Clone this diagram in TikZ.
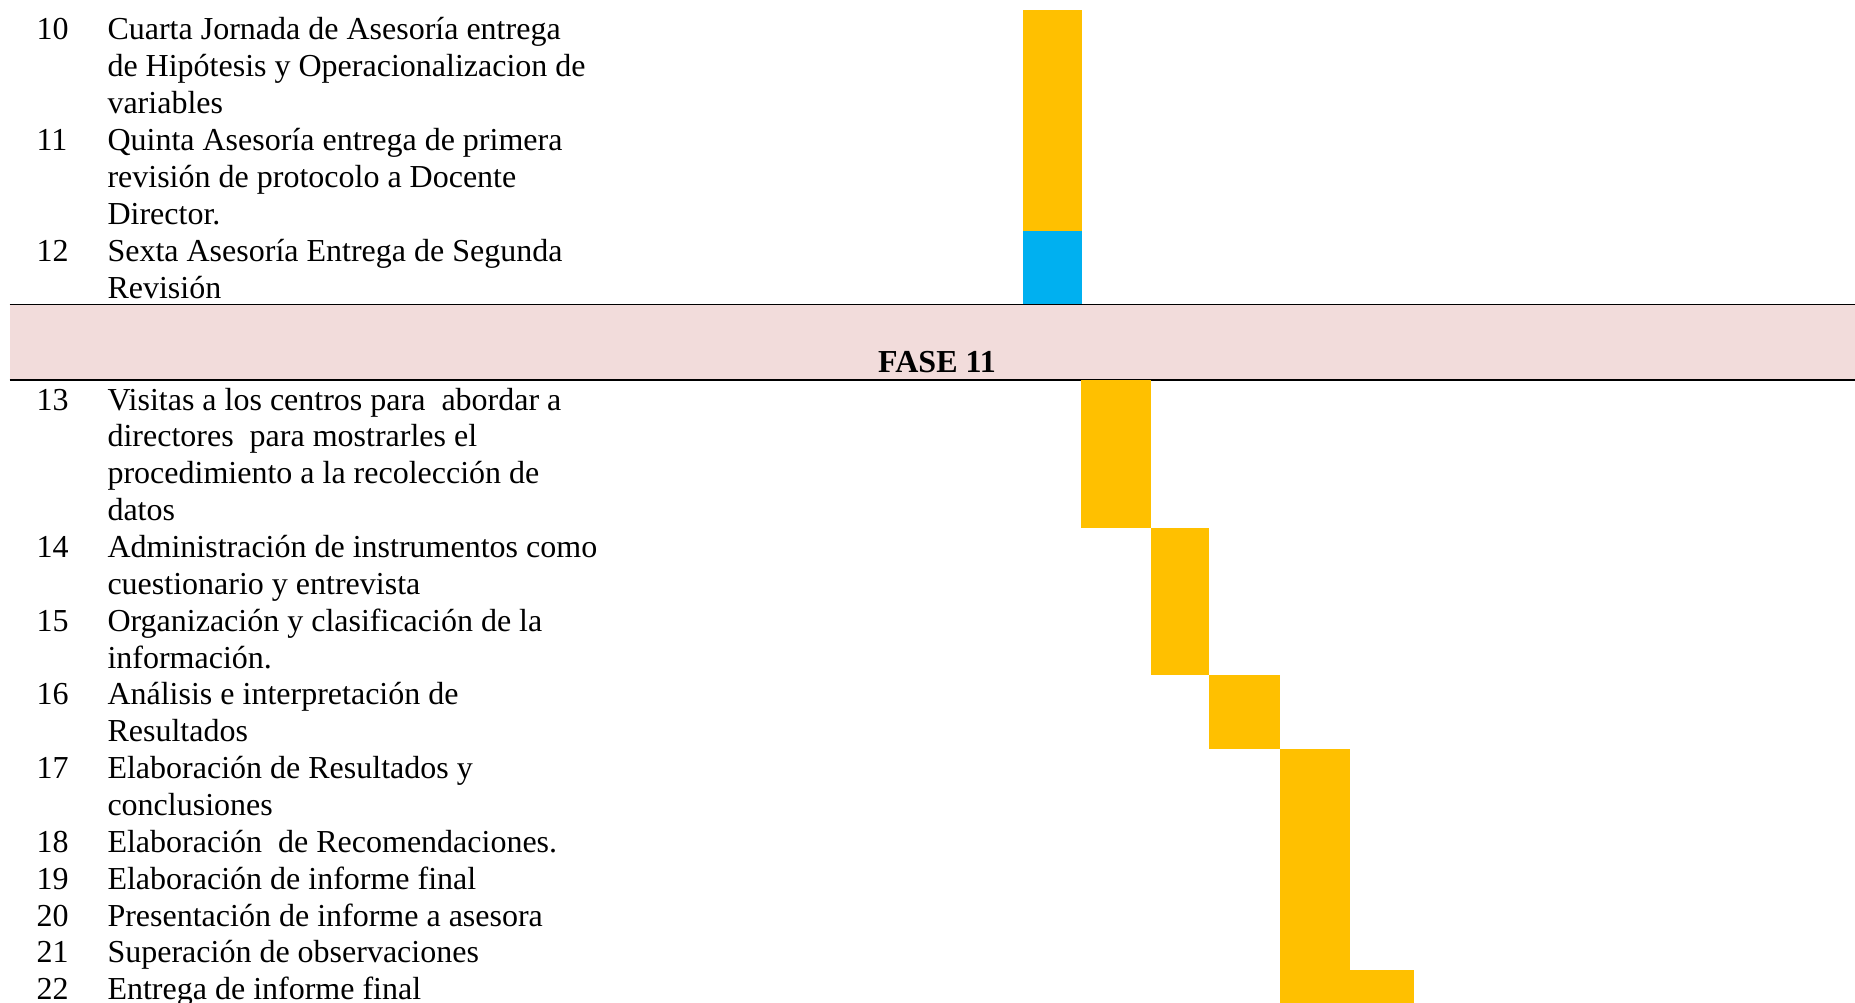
\documentclass[tikz,border=0pt]{standalone}
\usepackage{fontspec}
\setmainfont{Liberation Serif}
\definecolor{bar_yellow}{RGB}{255,192,0}
\definecolor{bar_blue}{RGB}{0,176,240}
\definecolor{band_pink}{RGB}{242,220,219}

\begin{document}
\begin{tikzpicture}[x=0.375pt,y=-0.375pt]
    \tikzstyle{num}=[anchor=base west, inner sep=0pt, text=black, font=\fontsize{12}{13.82}\selectfont]
    % multi-line tasks sit on the baseline of their last line
    \tikzstyle{task}=[style=num, align=left]
    \tikzstyle{plan}=[fill=bar_yellow]
    \tikzstyle{rev}=[fill=bar_blue]
    \tikzstyle{rule}=[draw=black, line width=0.56pt]
    \useasboundingbox (0,0) rectangle (1855,1003);

    % bars
    \fill[plan] (1023,10) rectangle (1081.5,231.2);
    \fill[rev] (1023,231.2) rectangle (1081.5,304.5);
    \fill[band_pink] (9.5,304.5) rectangle (1855,380);
    \draw[rule] (9.5,304.5) -- (1855,304.5);
    \draw[rule] (9.5,380) -- (1855,380);
    \fill[plan] (1081,380) rectangle (1151,527.5);
    \fill[plan] (1151,527.5) rectangle (1209,674.9);
    \fill[plan] (1209,674.9) rectangle (1280,748.6);
    \fill[plan] (1280,748.6) rectangle (1350,1003);
    \fill[plan] (1350,969.7) rectangle (1414,1003);

    \node[num,anchor=base,font=\fontsize{12}{13.82}\selectfont\bfseries] (fase) at (937,372.5) {FASE 11};

    \node[num] (n10) at (36,40) {10};
    \node[task] (t10) at (107,113.7) {Cuarta Jornada de Asesoría entrega\\de Hipótesis y Operacionalizacion de\\variables};
    \node[num] (n11) at (36,150.6) {11};
    \node[task] (t11) at (107,224.3) {Quinta Asesoría entrega de primera\\revisión de protocolo a Docente\\Director.};
    \node[num] (n12) at (36,261.2) {12};
    \node[task] (t12) at (107,298.1) {Sexta Asesoría Entrega de Segunda\\Revisión};

    \node[num] (n13) at (36,410) {13};
    \node[task] (t13) at (107,520.6) {Visitas a los centros para\ \ abordar a\\directores\ \ para mostrarles el\\procedimiento a la recolección de\\datos};
    \node[num] (n14) at (36,557.4) {14};
    \node[task] (t14) at (107,594.3) {Administración de instrumentos como\\cuestionario y entrevista};
    \node[num] (n15) at (36,631.2) {15};
    \node[task] (t15) at (107,668.1) {Organización y clasificación de la\\información.};
    \node[num] (n16) at (36,704.9) {16};
    \node[task] (t16) at (107,741.8) {Análisis e interpretación de\\Resultados};
    \node[num] (n17) at (36,778.6) {17};
    \node[task] (t17) at (107,815.5) {Elaboración de Resultados y\\conclusiones};
    \node[num] (n18) at (36,852.3) {18};
    \node[task] (t18) at (107,852.3) {Elaboración\ \ de Recomendaciones.};
    \node[num] (n19) at (36,889.2) {19};
    \node[task] (t19) at (107,889.2) {Elaboración de informe final};
    \node[num] (n20) at (36,926.0) {20};
    \node[task] (t20) at (107,926.0) {Presentación de informe a asesora};
    \node[num] (n21) at (36,962.9) {21};
    \node[task] (t21) at (107,962.9) {Superación de observaciones};
    \node[num] (n22) at (36,999.7) {22};
    \node[task] (t22) at (107,999.7) {Entrega de informe final};
\end{tikzpicture}
\end{document}
